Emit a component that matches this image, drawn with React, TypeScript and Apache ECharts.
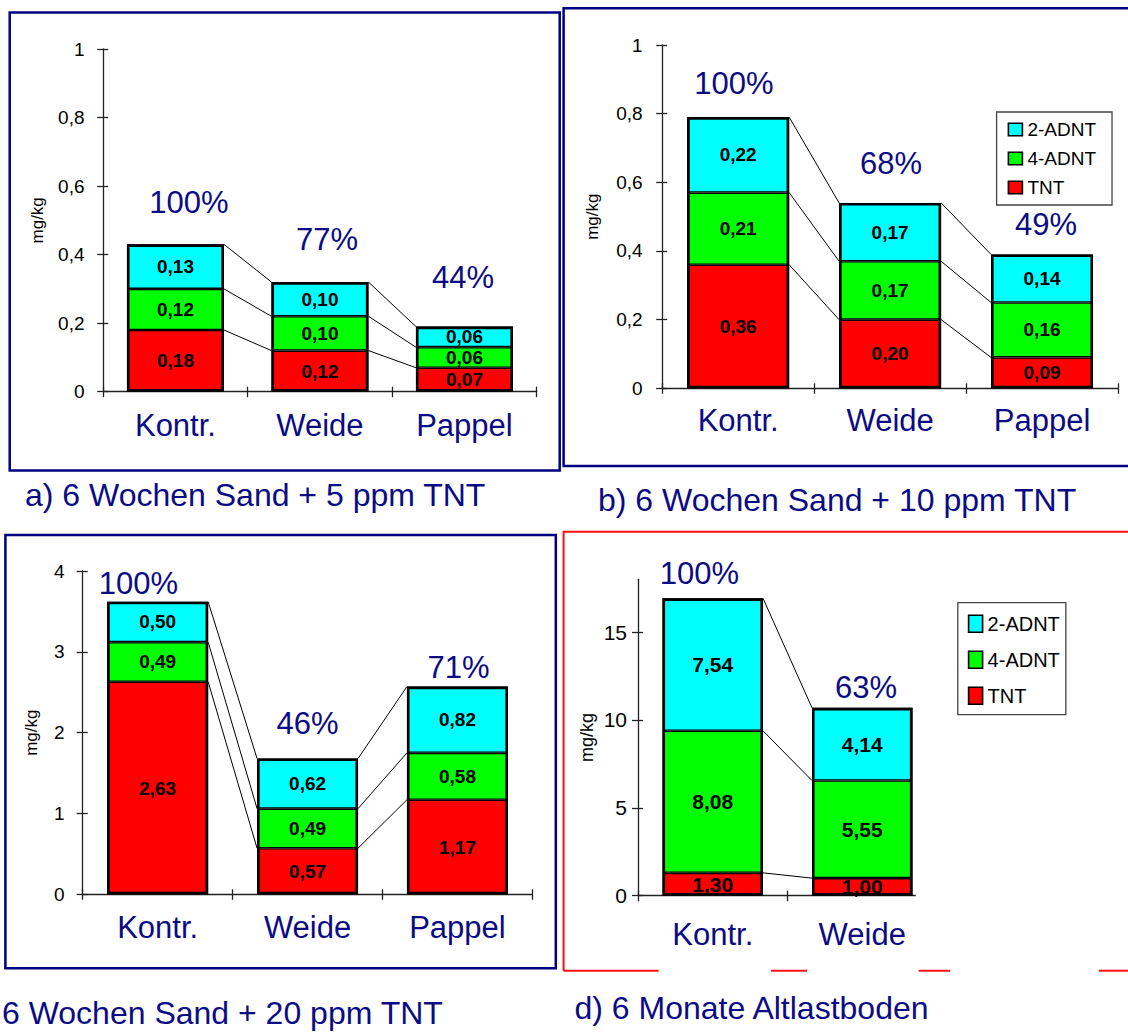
import React, { useEffect, useRef } from 'react';
import * as echarts from 'echarts';

// ---------- data ----------
const categoriesABC = ['Kontr.', 'Weide', 'Pappel'];
const categoriesD = ['Kontr.', 'Weide'];
const seriesNames = ['TNT', '4-ADNT', '2-ADNT'];

const aTNT = [0.18, 0.12, 0.07];
const aADNT4 = [0.12, 0.10, 0.06];
const aADNT2 = [0.13, 0.10, 0.06];
const aPct = ['100%', '77%', '44%'];

const bTNT = [0.36, 0.20, 0.09];
const bADNT4 = [0.21, 0.17, 0.16];
const bADNT2 = [0.22, 0.17, 0.14];
const bPct = ['100%', '68%', '49%'];

const cTNT = [2.63, 0.57, 1.17];
const cADNT4 = [0.49, 0.49, 0.58];
const cADNT2 = [0.50, 0.62, 0.82];
const cPct = ['100%', '46%', '71%'];

const dTNT = [1.30, 1.00];
const dADNT4 = [8.08, 5.55];
const dADNT2 = [7.54, 4.14];
const dPct = ['100%', '63%'];
const dTickValues = [0, 5, 10, 15];

const captions = [
  'a) 6 Wochen Sand + 5 ppm TNT',
  'b) 6 Wochen Sand + 10 ppm TNT',
  '6 Wochen Sand + 20 ppm TNT',
  'd) 6 Monate Altlastboden',
];
const legendItems = ['2-ADNT', '4-ADNT', 'TNT'];

// ---------- styles ----------
const FONT = '"Liberation Sans", Arial, Helvetica, sans-serif';
const NAVY = '#0b0b85';
const AXIS = '#222222';
const COLORS = ['#ff0000', '#00ff00', '#00ffff'];

const panels = [
  {
    cats: categoriesABC, vals: [aTNT, aADNT4, aADNT2], pct: aPct, max: 1, interval: 0.2,
    grid: { left: 103.2, top: 49, width: 433.5, height: 342.7 }, barWidth: 97,
    labelMargin: 18.7, tickSize: 19, nameGap: 57, nameSize: 17, catMargin: 18,
    valSize: 19,
    pctPos: [[189, 202], [327, 239], [463, 277]],
  },
  {
    cats: categoriesABC, vals: [bTNT, bADNT4, bADNT2], pct: bPct, max: 1, interval: 0.2,
    grid: { left: 662.2, top: 45, width: 455.8, height: 343.3 }, barWidth: 102,
    labelMargin: 19.6, tickSize: 19, nameGap: 61, nameSize: 17, catMargin: 17,
    valSize: 19,
    pctPos: [[734, 83], [891, 163], [1046, 224]],
  },
  {
    cats: categoriesABC, vals: [cTNT, cADNT4, cADNT2], pct: cPct, max: 4, interval: 1,
    grid: { left: 82.7, top: 571, width: 449.7, height: 323.3 }, barWidth: 101,
    labelMargin: 18, tickSize: 19, nameGap: 42.5, nameSize: 17, catMargin: 17.5,
    valSize: 19,
    pctPos: [[138.5, 583.5], [307.5, 723.5], [458.5, 667]],
  },
  {
    cats: categoriesD, vals: [dTNT, dADNT4, dADNT2], pct: dPct, max: 18, interval: 5,
    tickValues: dTickValues,
    grid: { left: 638, top: 579.3, width: 299, height: 316.4 }, barWidth: 100.5,
    labelMargin: 11, tickSize: 21, nameGap: 42, nameSize: 18, catMargin: 23,
    valSize: 21,
    pctPos: [[699.5, 573.5], [866, 687]],
  },
];

const fmtTick = (v: number) => String(Number(v.toFixed(2))).replace('.', ',');
const fmtVal = (p: any) => Number(p.value).toFixed(2).replace('.', ',');

function buildOption() {
  const grid: any[] = [];
  const xAxis: any[] = [];
  const yAxis: any[] = [];
  const series: any[] = [];
  const graphic: any[] = [];

  panels.forEach((p: any, gi) => {
    grid.push({ ...p.grid, containLabel: false });
    const tickLine = { color: AXIS, width: 1.3 };
    const custom = p.tickValues ? { customValues: p.tickValues } : {};

    xAxis.push({
      type: 'category', gridIndex: gi, data: p.cats, position: 'bottom',
      axisLine: { show: true, onZero: false, lineStyle: tickLine },
      axisTick: { show: true, length: 5.5, lineStyle: tickLine },
      axisLabel: { show: true, margin: p.catMargin, fontSize: 31, color: NAVY, fontFamily: FONT },
      splitLine: { show: false },
    });
    xAxis.push({
      type: 'category', gridIndex: gi, data: p.cats, position: 'bottom',
      axisLine: { show: false, onZero: false },
      axisTick: { show: true, inside: true, length: 5, lineStyle: tickLine },
      axisLabel: { show: false }, splitLine: { show: false },
    });
    yAxis.push({
      type: 'value', gridIndex: gi, position: 'left', min: 0, max: p.max, interval: p.interval,
      name: 'mg/kg', nameLocation: 'middle', nameRotate: 90, nameGap: p.nameGap,
      nameTextStyle: { fontSize: p.nameSize, fontFamily: FONT, color: '#000' },
      axisLine: { show: true, lineStyle: tickLine },
      axisTick: { show: true, inside: false, length: 6, lineStyle: tickLine, ...custom },
      axisLabel: { show: true, margin: p.labelMargin, fontSize: p.tickSize, color: '#000', fontFamily: FONT, formatter: fmtTick, ...custom },
      splitLine: { show: false },
    });
    yAxis.push({
      type: 'value', gridIndex: gi, position: 'left', min: 0, max: p.max, interval: p.interval,
      axisLine: { show: false },
      axisTick: { show: true, inside: true, length: 5, lineStyle: tickLine, ...custom },
      axisLabel: { show: false }, splitLine: { show: false },
    });

    // stacked bars
    p.vals.forEach((arr: number[], si: number) => {
      series.push({
        type: 'bar', name: seriesNames[si], stack: 'p' + gi,
        xAxisIndex: gi * 2, yAxisIndex: gi * 2, barWidth: p.barWidth,
        data: arr,
        itemStyle: { color: COLORS[si], borderColor: '#000', borderWidth: 1.3 },
        label: {
          show: true, position: 'inside', formatter: fmtVal, color: '#000',
          fontWeight: 'bold', fontSize: p.valSize, fontFamily: FONT,
        },
        emphasis: { disabled: true },
        z: 3,
      });
    });

    // totals for outline and connectors
    const n = p.cats.length;
    const cum: number[][] = [];
    for (let i = 0; i < n; i++) {
      let s = 0;
      cum.push(p.vals.map((arr: number[]) => (s += arr[i])));
    }
    const totals = cum.map((c) => c[c.length - 1]);

    // outer outline of each stacked bar
    series.push({
      type: 'bar', name: 'outline' + gi, barGap: '-100%',
      xAxisIndex: gi * 2, yAxisIndex: gi * 2, barWidth: p.barWidth,
      data: totals,
      itemStyle: { color: 'rgba(0,0,0,0)', borderColor: '#000', borderWidth: 2.6 },
      label: { show: false }, silent: true, emphasis: { disabled: true },
      z: 4,
    });

    // connector (series) lines between stack levels of neighbouring bars
    const lines: number[][] = [];
    for (let i = 0; i < n - 1; i++) {
      for (let k = 0; k < p.vals.length; k++) lines.push([i, cum[i][k], cum[i + 1][k]]);
    }
    const hw = p.barWidth / 2;
    series.push({
      type: 'custom', xAxisIndex: gi * 2, yAxisIndex: gi * 2, silent: true, z: 2,
      encode: { x: 0, y: 1 },
      data: lines,
      renderItem: (_params: any, api: any) => {
        const i = api.value(0);
        const p1 = api.coord([i, api.value(1)]);
        const p2 = api.coord([i + 1, api.value(2)]);
        return {
          type: 'line',
          shape: { x1: p1[0] + hw, y1: p1[1], x2: p2[0] - hw, y2: p2[1] },
          style: { stroke: '#000', lineWidth: 1 },
        };
      },
    });

    // percentage annotations
    p.pct.forEach((t: string, i: number) => {
      graphic.push({
        type: 'text', x: p.pctPos[i][0], y: p.pctPos[i][1], z: 50,
        style: { text: t, fill: NAVY, font: `31px ${FONT}`, textAlign: 'center', textVerticalAlign: 'middle' },
      });
    });
  });

  // panel frames
  graphic.push({ type: 'rect', z: 1, shape: { x: 9.7, y: 12.5, width: 550, height: 458 }, style: { fill: 'none', stroke: '#000080', lineWidth: 2.5 } });
  graphic.push({ type: 'rect', z: 1, shape: { x: 563.6, y: 8.3, width: 580, height: 457.7 }, style: { fill: 'none', stroke: '#000080', lineWidth: 2.5 } });
  graphic.push({ type: 'rect', z: 1, shape: { x: 5.4, y: 535, width: 550.4, height: 433.3 }, style: { fill: 'none', stroke: '#000080', lineWidth: 2.5 } });
  graphic.push({ type: 'polyline', z: 1, shape: { points: [[1140, 531.7], [563.6, 531.7], [563.6, 970.7]] }, style: { fill: 'none', stroke: '#ff1010', lineWidth: 2 } });
  [[563.6, 658.6], [770.9, 807], [918.7, 950.2], [1098.8, 1130]].forEach(([x1, x2]) => {
    graphic.push({ type: 'line', z: 1, shape: { x1, y1: 970.7, x2, y2: 970.7 }, style: { stroke: '#ff1010', lineWidth: 2 } });
  });
  // panel d: axis cut off after the last bar
  graphic.push({ type: 'rect', z: 100, shape: { x: 915.8, y: 884, width: 30, height: 20 }, style: { fill: '#fff' } });

  // captions
  const capPos = [[25, 495], [598, 499.5], [2, 1013], [574.5, 1007.5]];
  captions.forEach((t, i) => {
    graphic.push({
      type: 'text', x: capPos[i][0], y: capPos[i][1], z: 50,
      style: { text: t, fill: NAVY, font: `32px ${FONT}`, textAlign: 'left', textVerticalAlign: 'middle' },
    });
  });

  const legend = [
    {
      data: legendItems, orient: 'vertical', left: 996.6, top: 112,
      itemWidth: 14, itemHeight: 12.5, itemGap: 10, padding: [8, 16, 8, 11],
      borderColor: '#444', borderWidth: 1.3, icon: 'rect',
      itemStyle: { borderColor: '#000', borderWidth: 1.6 },
      textStyle: { fontSize: 19, fontFamily: FONT, color: '#000' },
      selectedMode: false,
    },
    {
      data: legendItems, orient: 'vertical', left: 957.8, top: 602.7,
      itemWidth: 14, itemHeight: 17, itemGap: 16, padding: [11, 6, 9, 10],
      borderColor: '#444', borderWidth: 1.3, icon: 'rect',
      itemStyle: { borderColor: '#000', borderWidth: 1.6 },
      textStyle: { fontSize: 20, fontFamily: FONT, color: '#000' },
      selectedMode: false,
    },
  ];

  return {
    animation: false,
    backgroundColor: '#ffffff',
    textStyle: { fontFamily: FONT },
    grid, xAxis, yAxis, series, graphic, legend,
  };
}

export default function App() {
  const ref = useRef<HTMLDivElement>(null);
  useEffect(() => {
    if (!ref.current) return;
    const chart = echarts.init(ref.current, undefined, { renderer: 'svg' });
    chart.setOption(buildOption() as any);
    return () => chart.dispose();
  }, []);
  return (
    <div
      ref={ref}
      style={{ position: 'absolute', left: 0, top: 0, width: 1128, height: 1032, background: '#fff' }}
    />
  );
}
